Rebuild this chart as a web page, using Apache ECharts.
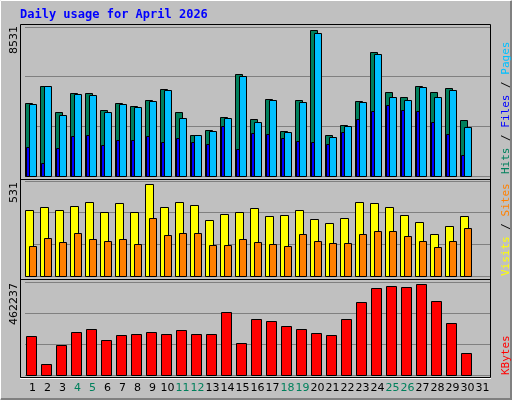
<!DOCTYPE html>
<html><head><meta charset="utf-8">
<script src="https://cdn.jsdelivr.net/npm/echarts@6/dist/echarts.min.js"></script>
<style>html,body{margin:0;padding:0;background:#c0c0c0}#c{width:512px;height:400px}</style>
</head><body><div id="c"></div>
<script>
const days = Array.from({length:31},(_,i)=>String(i+1));
const weekendDays = ['4','5','11','12','18','19','25','26'];
const hits  = [4237,5267,3722,4867,4867,3836,4237,4065,4466,5096,3722,2405,2691,3435,5955,3321,4523,2634,4409,8531,2405,2977,4351,7214,4924,4638,5267,4924,5153,3264];
const files = [4180,5267,3550,4809,4752,3722,4180,4008,4351,5038,3378,2405,2634,3378,5840,3149,4466,2576,4294,8359,2290,2920,4294,7100,4638,4466,5210,4638,5038,2863];
const pages = [1718,744,1660,2347,2405,1832,2118,2118,2347,2004,2233,2004,1889,2920,1603,2519,2462,2233,2061,2004,1889,2576,3321,3779,4122,3836,3779,3149,2462,1202];
const visits= [381,398,381,404,427,369,421,369,531,398,427,410,323,358,369,392,346,352,381,329,306,335,427,421,398,352,312,242,289,346];
const sites = [173,219,196,248,214,202,214,185,335,237,248,248,179,179,214,196,185,173,242,202,190,190,242,260,260,231,202,167,202,277];
const kbytes= [198000,55900,152000,218000,234000,178000,203000,208000,218000,208000,229000,208000,208000,320000,163000,284000,274000,249000,234000,213000,203000,284000,371000,442000,452000,447000,462237,376000,264000,112000];
const maxLabels = ['8531','531','462237'];

const chart = echarts.init(document.getElementById('c'));
function bars(vals, color, off, w, gi, z){
  return {type:'custom', xAxisIndex:gi, yAxisIndex:gi, z:z,
    data: vals.map((v,i)=>[i,v]),
    renderItem:(p,api)=>{
      const top=api.coord([api.value(0),api.value(1)]);
      const bot=api.coord([api.value(0),0]);
      return {type:'rect', shape:{x:Math.round(top[0]+off-w/2)+0.5,y:Math.round(top[1])+0.5,width:w,height:Math.round(bot[1]-top[1])},
        style:{fill:color,stroke:'#000',lineWidth:1}};
    }};
}
const grids=[{top:27,height:149},{top:181,height:95},{top:282,height:93}];
const maxes=[8700,546,472400];
const xAxis=grids.map((g,i)=>({type:'category',gridIndex:i,data:days,boundaryGap:true,
  axisLine:{show:false},axisTick:{show:false},splitLine:{show:false},
  axisLabel:{show:i===2,margin:8,fontFamily:'DejaVu Sans',fontSize:11,interval:0,
    color:(v)=>weekendDays.includes(v)?'#00805c':'#000'}}));
const yAxis=grids.map((g,i)=>({type:'value',gridIndex:i,min:0,max:maxes[i],interval:maxes[i]/3,
  axisLabel:{show:false},axisLine:{show:false},axisTick:{show:false},
  splitLine:{show:true,lineStyle:{color:'#808080',width:1}}}));
const rl=(x,y,t,c)=>({type:'text',x:x,y:y,rotation:Math.PI/2,style:{text:t,fill:c,font:'11px "DejaVu Sans Mono"',textAlign:'left',textVerticalAlign:'middle'}});
const ll=(y,t)=>({type:'text',x:14,y:y,rotation:Math.PI/2,style:{text:t,fill:'#000',font:'11px "DejaVu Sans"',textAlign:'right',textVerticalAlign:'middle'}});
chart.setOption({
  animation:false, backgroundColor:'#c0c0c0',
  grid:grids.map(g=>({left:25,width:465,top:g.top,height:g.height})),
  xAxis:xAxis, yAxis:yAxis,
  graphic:[
    {type:'rect',shape:{x:0.5,y:0.5,width:510,height:398},style:{fill:'none',stroke:'#fff',lineWidth:1},z:-1},
    {type:'polyline',shape:{points:[[511,1],[511,399],[1,399]]},style:{stroke:'#808080',lineWidth:2,fill:null}},
    {type:'rect',shape:{x:20.5,y:24.5,width:470,height:353},style:{fill:'none',stroke:'#000',lineWidth:1}},
    {type:'line',shape:{x1:20,y1:179.5,x2:491,y2:179.5},style:{stroke:'#000',lineWidth:1}},
    {type:'line',shape:{x1:20,y1:279.5,x2:491,y2:279.5},style:{stroke:'#000',lineWidth:1}},
    {type:'line',shape:{x1:20,y1:378.5,x2:491,y2:378.5},style:{stroke:'#fff',lineWidth:1}},
    {type:'text',x:20,y:9,style:{text:'Daily usage for April 2026',fill:'#0000ff',font:'bold 12px "DejaVu Sans Mono"'}},
    ll(26,maxLabels[0]),ll(182,maxLabels[1]),ll(283,maxLabels[2]),
    {type:'text',x:499,y:100,rotation:-Math.PI/2,style:{text:'',fill:'#000'}},
    {type:'group',x:501,y:26,rotation:-Math.PI/2,children:[]},
    {type:'text',x:506,y:174,rotation:Math.PI/2,style:{rich:{a:{fill:'#00c0ff'},b:{fill:'#000'},c:{fill:'#0000ff'},d:{fill:'#00805c'}},text:'{d|Hits}{b| / }{c|Files}{b| / }{a|Pages}',font:'11px "DejaVu Sans Mono"',textAlign:'left',textVerticalAlign:'middle'}},
    {type:'text',x:506,y:276,rotation:Math.PI/2,style:{rich:{a:{fill:'#ffff00'},b:{fill:'#000'},c:{fill:'#ff8000'}},text:'{a|Visits}{b| / }{c|Sites}',font:'11px "DejaVu Sans Mono"',textAlign:'left',textVerticalAlign:'middle'}},
    {type:'text',x:506,y:375,rotation:Math.PI/2,style:{text:'KBytes',fill:'#ff0000',font:'11px "DejaVu Sans Mono"',textAlign:'left',textVerticalAlign:'middle'}}
  ],
  series:[
    bars(hits,'#00805c',-4,7,0,2),
    bars(files,'#00c0ff',0,7,0,3),
    bars(pages,'#0000ff',-5,3,0,4),
    bars(visits,'#ffff00',-3.5,8,1,2),
    bars(sites,'#ff8000',0,7,1,3),
    bars(kbytes,'#ff0000',-1.5,10,2,2)
  ]
});
</script></body></html>
